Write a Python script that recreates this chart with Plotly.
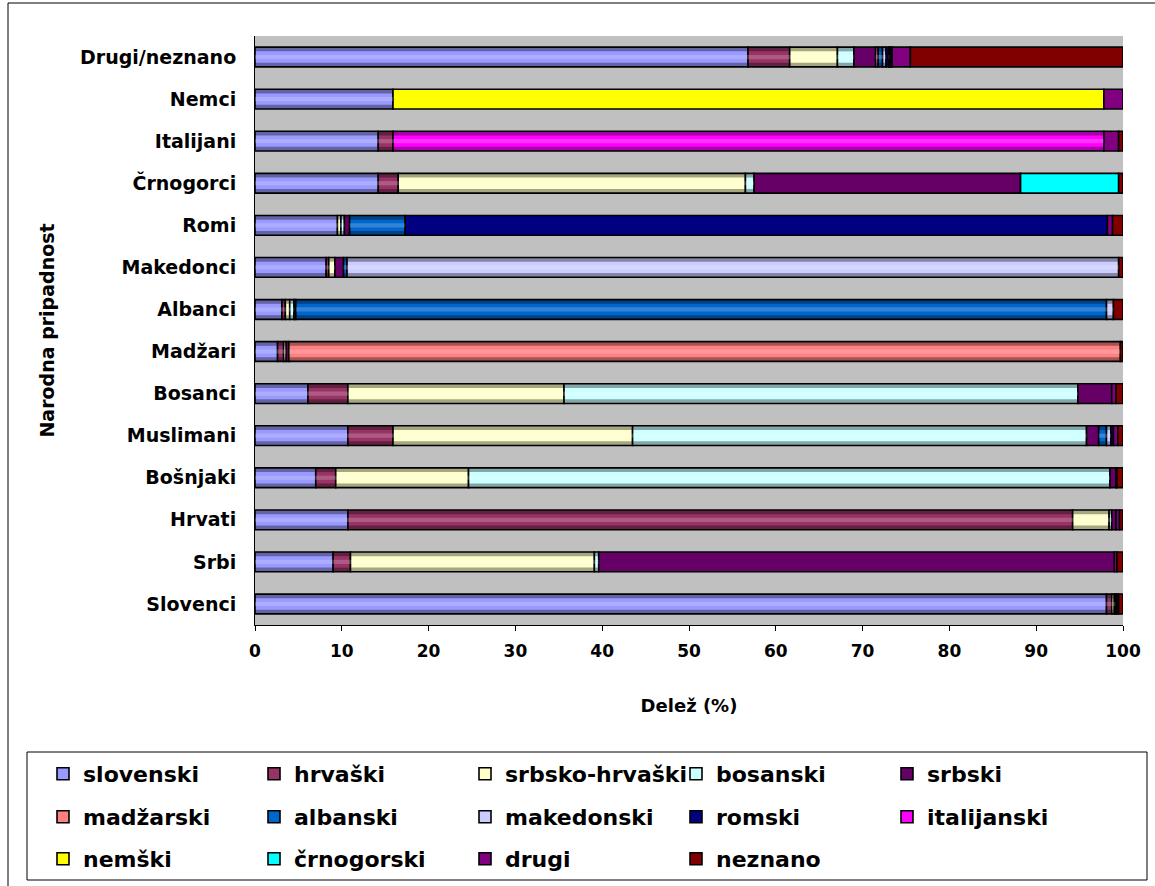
import plotly.graph_objects as go

# Nationality groups, bottom to top on the chart
groups = ["Slovenci", "Srbi", "Hrvati", "Bošnjaki", "Muslimani", "Bosanci", "Madžari",
          "Albanci", "Makedonci", "Romi", "Črnogorci", "Italijani", "Nemci", "Drugi/neznano"]

# Share (%) of each mother tongue within each group
slovenski = [98.1, 9.0, 10.7, 7.0, 10.7, 6.1, 2.6, 3.1, 8.2, 9.5, 14.2, 14.2, 15.9, 56.8]
hrvaski = [0.6, 2.0, 83.5, 2.3, 5.2, 4.6, 0.7, 0.4, 0.3, 0.0, 2.3, 1.7, 0.0, 4.8]
srbsko_hrvaski = [0.3, 28.1, 4.2, 15.3, 27.6, 24.9, 0.3, 0.5, 0.7, 0.4, 40.0, 0.0, 0.0, 5.5]
bosanski = [0.1, 0.5, 0.3, 73.9, 52.3, 59.2, 0.0, 0.5, 0.0, 0.4, 1.0, 0.0, 0.0, 1.9]
srbski = [0.2, 59.4, 0.5, 0.7, 1.4, 3.9, 0.3, 0.2, 1.0, 0.6, 30.7, 0.0, 0.0, 2.5]
madzarski = [0.0, 0.0, 0.0, 0.0, 0.0, 0.0, 95.8, 0.0, 0.0, 0.0, 0.0, 0.0, 0.0, 0.3]
albanski = [0.0, 0.0, 0.0, 0.0, 0.9, 0.0, 0.0, 93.4, 0.4, 6.4, 0.0, 0.0, 0.0, 0.5]
makedonski = [0.0, 0.0, 0.0, 0.0, 0.5, 0.0, 0.0, 0.8, 88.9, 0.0, 0.0, 0.0, 0.0, 0.4]
romski = [0.0, 0.0, 0.0, 0.0, 0.3, 0.0, 0.0, 0.0, 0.0, 80.9, 0.0, 0.0, 0.0, 0.3]
italijanski = [0.0, 0.0, 0.0, 0.0, 0.0, 0.0, 0.0, 0.0, 0.0, 0.0, 0.0, 81.9, 0.0, 0.1]
nemski = [0.0, 0.0, 0.0, 0.0, 0.0, 0.0, 0.0, 0.0, 0.0, 0.0, 0.0, 0.0, 81.9, 0.1]
crnogorski = [0.0, 0.0, 0.0, 0.0, 0.0, 0.0, 0.0, 0.0, 0.0, 0.0, 11.3, 0.0, 0.0, 0.2]
drugi = [0.2, 0.3, 0.4, 0.1, 0.5, 0.5, 0.0, 0.0, 0.0, 0.6, 0.0, 1.7, 2.2, 2.1]
neznano = [0.5, 0.7, 0.4, 0.7, 0.6, 0.8, 0.3, 1.1, 0.5, 1.2, 0.5, 0.5, 0.0, 24.5]

series_names = ["slovenski", "hrvaški", "srbsko-hrvaški", "bosanski", "srbski", "madžarski",
                "albanski", "makedonski", "romski", "italijanski", "nemški", "črnogorski",
                "drugi", "neznano"]
series_values = [slovenski, hrvaski, srbsko_hrvaski, bosanski, srbski, madzarski, albanski,
                 makedonski, romski, italijanski, nemski, crnogorski, drugi, neznano]
series_colors = ["#9999FF", "#993366", "#FFFFCC", "#CCFFFF", "#660066", "#FF8080", "#0066CC",
                 "#CCCCFF", "#000080", "#FF00FF", "#FFFF00", "#00FFFF", "#800080", "#800000"]
# series drawn with a darker rim and a lighter core (gradient-like fill)
shaded = {"slovenski", "hrvaški", "srbsko-hrvaški", "bosanski", "madžarski", "albanski",
          "makedonski", "italijanski"}

FONT = "DejaVu Sans"
BAR_W = 0.47
RIM = 0.1
CORE = 0.1

fig = go.Figure()

# running left edge of each segment (segments are laid end to end)
bases = []
acc = [0.0] * len(groups)
for vals in series_values:
    bases.append(list(acc))
    acc = [a + v for a, v in zip(acc, vals)]

legend_rows = ["legend", "legend2", "legend3"]
for i, (name, vals, base, col) in enumerate(zip(series_names, series_values, bases, series_colors)):
    v = [x if x > 0 else None for x in vals]
    fig.add_trace(go.Bar(
        y=groups, x=v, base=base, name=f"<b>{name}</b>", orientation="h", width=BAR_W,
        marker=dict(color=col, line=dict(color="black", width=1.6)),
        legend=legend_rows[i // 5], hoverinfo="x+name",
    ))

# shading bands drawn over the shaded series
bands = [(-BAR_W / 2, RIM, "rgba(0,0,0,0.35)"),
         (BAR_W / 2 - RIM, RIM, "rgba(0,0,0,0.35)"),
         (-CORE / 2, CORE, "rgba(255,255,255,0.2)")]
for off, wid, fill in bands:
    for name, vals, base in zip(series_names, series_values, bases):
        if name not in shaded:
            continue
        fig.add_trace(go.Bar(
            y=groups, x=[x if x > 0 else None for x in vals], base=base, orientation="h",
            width=wid, offset=off, marker=dict(color=fill, line=dict(width=0)),
            showlegend=False, hoverinfo="skip",
        ))

L, R, T, B = 255, 32, 36, 261
W, H = 1155, 886
pw, ph = W - L - R, H - T - B


def px_x(x):
    return (x - L) / pw


def px_y(y):
    return (H - B - y) / ph


fig.update_layout(
    width=W, height=H,
    margin=dict(l=L, r=R, t=T, b=B, autoexpand=False),
    barmode="overlay",
    paper_bgcolor="white",
    plot_bgcolor="#C0C0C0",
    font=dict(family=FONT, color="black"),
    xaxis=dict(range=[0, 100], showgrid=False, zeroline=False,
               showline=True, linecolor="black", linewidth=1, ticks="outside", ticklen=5,
               tickcolor="black", tickfont=dict(family=FONT, size=17, color="black"),
               tickvals=list(range(0, 101, 10)),
               ticktext=[f"<b>{t}</b>" for t in range(0, 101, 10)],
               ticklabelstandoff=6,
               title=dict(text="<b>Delež (%)</b>", font=dict(family=FONT, size=18),
                          standoff=38)),
    yaxis=dict(type="category", categoryorder="array", categoryarray=groups,
               range=[-0.5, 13.5], showgrid=False, showline=True, linecolor="black",
               linewidth=1, ticks="", tickfont=dict(family=FONT, size=19, color="black"),
               tickvals=groups, ticktext=[f"<b>{g}</b>" for g in groups],
               ticklabelstandoff=14,
               title=dict(text="<b>Narodna pripadnost</b>", font=dict(family=FONT, size=19),
                          standoff=20)),
    shapes=[
        dict(type="rect", xref="paper", yref="paper", x0=px_x(8), x1=px_x(1170),
             y0=px_y(900), y1=px_y(3), line=dict(color="black", width=1)),
        dict(type="rect", xref="paper", yref="paper", x0=px_x(27), x1=px_x(1147),
             y0=px_y(880), y1=px_y(752), line=dict(color="black", width=1),
             fillcolor="white", layer="below"),
    ],
)

for key, ypix in zip(legend_rows, (774, 817, 859)):
    fig.update_layout({key: dict(
        orientation="h", x=px_x(43), xanchor="left", y=px_y(ypix), yanchor="middle",
        bgcolor="rgba(0,0,0,0)", borderwidth=0, entrywidth=166, entrywidthmode="pixels",
        font=dict(family=FONT, size=22, color="black"), traceorder="normal",
    )})

fig.write_html("out.html")
